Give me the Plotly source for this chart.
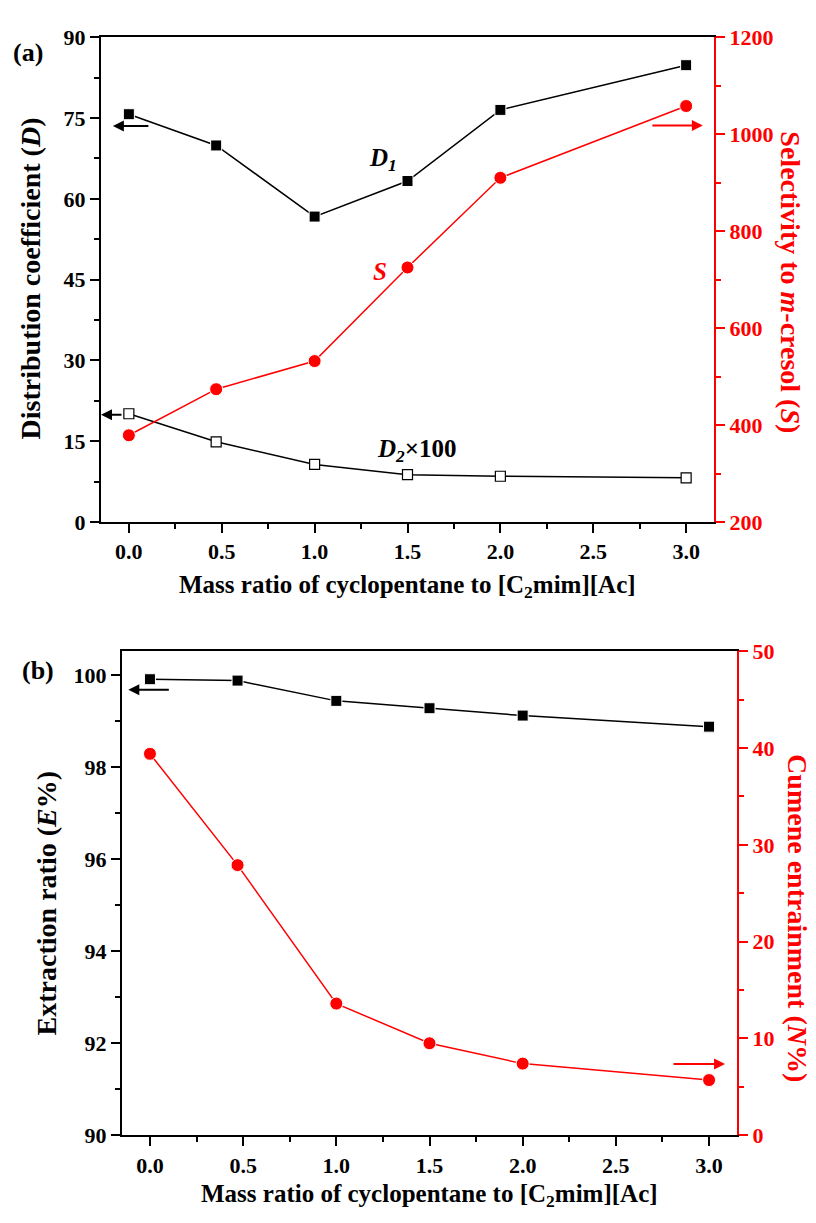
import plotly.graph_objects as go

# Mass ratio of cyclopentane to [C2mim][Ac]
ratio = [0.0, 0.47, 1.0, 1.5, 2.0, 3.0]

# Panel (a): distribution coefficients and selectivity
d1 = [75.7, 69.9, 56.7, 63.3, 76.5, 84.8]
d2_x100 = [20.1, 14.9, 10.7, 8.8, 8.5, 8.2]
selectivity = [379, 474, 532, 725, 910, 1058]

# Panel (b): extraction ratio and cumene entrainment
extraction = [99.91, 99.88, 99.44, 99.28, 99.12, 98.88]
entrainment = [39.4, 27.9, 13.6, 9.5, 7.4, 5.7]

W, H = 816, 1223
FONT = "Liberation Serif"
RED = "#ff0000"
BLACK = "#000000"


def px_x(p):
    return p / W


def px_y(p):
    return 1 - p / H


# plot-area edges in pixels
A_L, A_R, A_T, A_B = 101, 714, 25.7, 520.7
B_L, B_R, B_T, B_B = 122, 737, 652.5, 1146.7

fig = go.Figure()

sq = dict(symbol="square", size=11, color=BLACK, line=dict(color="white", width=1))
circ = dict(symbol="circle", size=13, color=RED, line=dict(color="white", width=1))
open_sq = dict(symbol="square", size=10, color="white", line=dict(color=BLACK, width=1.2))

fig.add_trace(go.Scatter(x=ratio, y=d1, mode="lines+markers", xaxis="x", yaxis="y",
                         line=dict(color=BLACK, width=1.5), marker=sq))
fig.add_trace(go.Scatter(x=ratio, y=d2_x100, mode="lines+markers", xaxis="x", yaxis="y",
                         line=dict(color=BLACK, width=1.5), marker=open_sq))
fig.add_trace(go.Scatter(x=ratio, y=selectivity, mode="lines+markers", xaxis="x", yaxis="y2",
                         line=dict(color=RED, width=1.5), marker=circ))

fig.add_trace(go.Scatter(x=ratio, y=extraction, mode="lines+markers", xaxis="x2", yaxis="y3",
                         line=dict(color=BLACK, width=1.5), marker=sq))
fig.add_trace(go.Scatter(x=ratio, y=entrainment, mode="lines+markers", xaxis="x2", yaxis="y4",
                         line=dict(color=RED, width=1.5), marker=circ))

tickfont = dict(family=FONT, size=22, color=BLACK, weight="bold")
redtickfont = dict(family=FONT, size=22, color=RED, weight="bold")

xcommon = dict(range=[-0.15, 3.15], dtick=0.5, tick0=0, tickformat=".1f",
               ticks="outside", ticklen=9, tickwidth=2, tickcolor=BLACK,
               showline=True, linewidth=2, linecolor=BLACK, mirror=True,
               showgrid=False, zeroline=False, tickfont=tickfont,
               minor=dict(ticks="outside", ticklen=5, tickwidth=2, dtick=0.25,
                          tickcolor=BLACK, showgrid=False))

ycommon = dict(ticks="outside", ticklen=9, tickwidth=2, showline=True, linewidth=2,
               showgrid=False, zeroline=False)

fig.update_layout(
    width=W, height=H,
    margin=dict(l=0, r=0, t=0, b=0),
    paper_bgcolor="white", plot_bgcolor="white",
    showlegend=False,
    xaxis=dict(domain=[px_x(A_L), px_x(A_R)], anchor="y", **xcommon),
    xaxis2=dict(domain=[px_x(B_L), px_x(B_R)], anchor="y3", **xcommon),
    yaxis=dict(domain=[px_y(A_B), px_y(A_T)], anchor="x", range=[0, 90], dtick=15,
               tickcolor=BLACK, linecolor=BLACK, tickfont=tickfont,
               minor=dict(ticks="outside", ticklen=5, tickwidth=2, dtick=7.5,
                          tickcolor=BLACK, showgrid=False),
               **ycommon),
    yaxis2=dict(overlaying="y", side="right", anchor="x", range=[200, 1200], dtick=200,
                tickcolor=RED, linecolor=RED, tickfont=redtickfont,
                minor=dict(ticks="outside", ticklen=5, tickwidth=2, dtick=100,
                           tickcolor=RED, showgrid=False),
                **ycommon),
    yaxis3=dict(domain=[px_y(B_B), px_y(B_T)], anchor="x2", range=[90, 100.52], dtick=2,
                tick0=90, tickcolor=BLACK, linecolor=BLACK, tickfont=tickfont,
                minor=dict(ticks="outside", ticklen=5, tickwidth=2, dtick=1,
                           tickcolor=BLACK, showgrid=False),
                **ycommon),
    yaxis4=dict(overlaying="y3", side="right", anchor="x2", range=[0, 50], dtick=10,
                tickcolor=RED, linecolor=RED, tickfont=redtickfont,
                minor=dict(ticks="outside", ticklen=5, tickwidth=2, dtick=5,
                           tickcolor=RED, showgrid=False),
                **ycommon),
)

xtitlefont = dict(family=FONT, size=25, color=BLACK, weight="bold")
ytitlefont = dict(family=FONT, size=28, color=BLACK, weight="bold")
redtitlefont = dict(family=FONT, size=28, color=RED, weight="bold")
labelfont = dict(family=FONT, size=25, color=BLACK, weight="bold")

annotations = [
    # axis titles
    dict(text="Mass ratio of cyclopentane to [C<sub>2</sub>mim][Ac]",
         x=px_x((A_L + A_R) / 2), y=px_y(586), font=xtitlefont),
    dict(text="Mass ratio of cyclopentane to [C<sub>2</sub>mim][Ac]",
         x=px_x((B_L + B_R) / 2), y=px_y(1208), font=xtitlefont),
    dict(text="Distribution coefficient (<i>D</i>)", textangle=-90,
         x=px_x(30), y=px_y(272), font=ytitlefont),
    dict(text="Selectivity to <i>m</i>-cresol (<i>S</i>)", textangle=90,
         x=px_x(791), y=px_y(276), font=redtitlefont),
    dict(text="Extraction ratio (<i>E</i>%)", textangle=-90,
         x=px_x(46), y=px_y(910), font=ytitlefont),
    dict(text="Cumene entrainment (<i>N</i>%)", textangle=90,
         x=px_x(798), y=px_y(925), font=redtitlefont),
    # panel letters
    dict(text="(a)", x=px_x(28), y=px_y(41), font=dict(family=FONT, size=26, color=BLACK, weight="bold")),
    dict(text="(b)", x=px_x(38), y=px_y(672), font=dict(family=FONT, size=26, color=BLACK, weight="bold")),
    # series labels
    dict(text="<i>D<sub>1</sub></i>", x=px_x(383), y=px_y(151), font=labelfont),
    dict(text="<i>S</i>", x=px_x(380), y=px_y(265),
         font=dict(family=FONT, size=25, color=RED, weight="bold")),
    dict(text="<i>D<sub>2</sub></i>×100", x=px_x(417), y=px_y(448), font=labelfont),
]
for a in annotations:
    a.update(xref="paper", yref="paper", showarrow=False, xanchor="center", yanchor="middle")

# arrows pointing to the axis each series belongs to
arrows = [
    dict(x=-0.086, y=73.5, xref="x", yref="y", ax=37, ay=0, arrowcolor=BLACK),
    dict(x=-0.15, y=19.9, xref="x", yref="y", ax=22, ay=0, arrowcolor=BLACK),
    dict(x=3.09, y=1018, xref="x", yref="y2", ax=-52, ay=0, arrowcolor=RED),
    dict(x=-0.116, y=99.68, xref="x2", yref="y3", ax=42, ay=0, arrowcolor=BLACK),
    dict(x=3.086, y=7.35, xref="x2", yref="y4", ax=-53, ay=0, arrowcolor=RED),
]
for a in arrows:
    a.update(text="", showarrow=True, arrowhead=2, arrowsize=1.1, arrowwidth=2,
             axref="pixel", ayref="pixel")

fig.update_layout(annotations=annotations + arrows)

fig.write_html("out.html")
